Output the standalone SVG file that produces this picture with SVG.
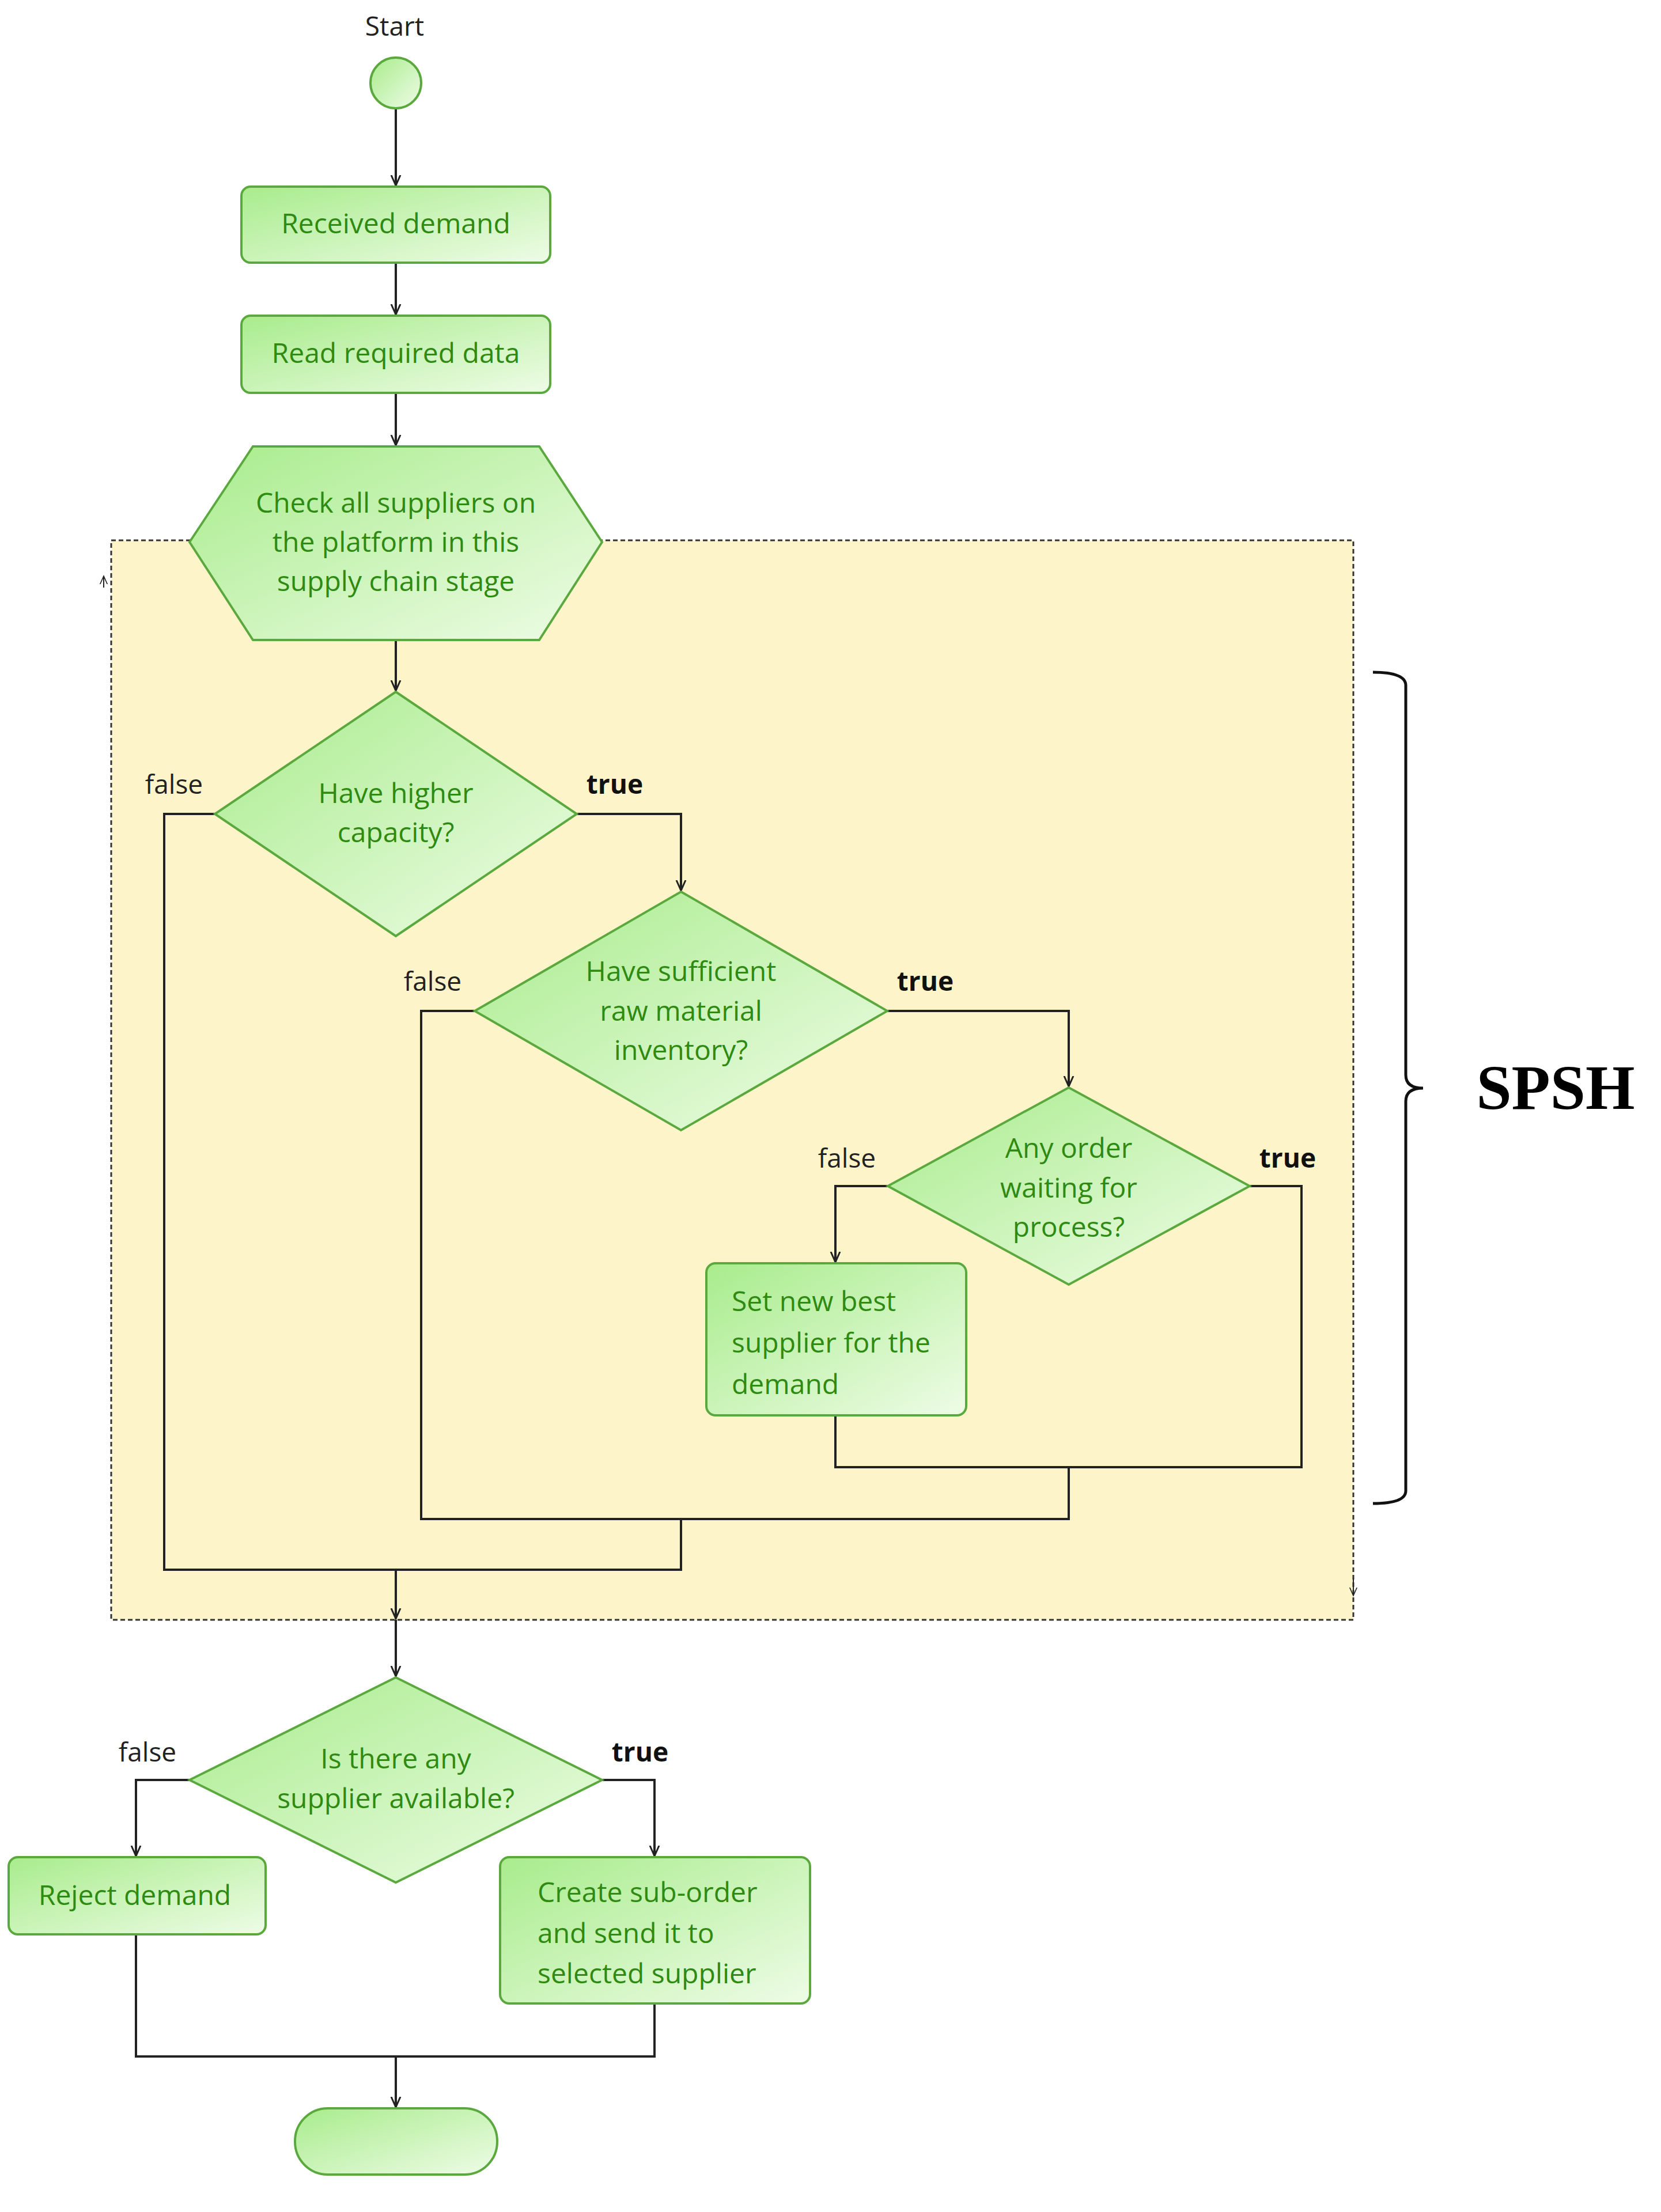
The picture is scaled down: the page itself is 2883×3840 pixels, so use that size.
<svg xmlns="http://www.w3.org/2000/svg" width="2883" height="3840" viewBox="0 0 2883 3840">
<defs>
<linearGradient id="g" x1="0" y1="0" x2="1" y2="1">
<stop offset="0" stop-color="#a8ec8c"/><stop offset="1" stop-color="#eefce6"/>
</linearGradient>
<marker id="a" viewBox="0 0 20 20" refX="18" refY="10" markerWidth="20" markerHeight="20" markerUnits="userSpaceOnUse" orient="auto">
<path d="M0,2 L18,10 L0,18" fill="none" stroke="#222" stroke-width="3"/>
</marker>
<marker id="as" viewBox="0 0 20 20" refX="18" refY="10" markerWidth="16" markerHeight="16" markerUnits="userSpaceOnUse" orient="auto">
<path d="M0,2 L18,10 L0,18" fill="none" stroke="#222" stroke-width="2"/>
</marker>
</defs>
<style>
.n{fill:url(#g);stroke:#5aa83e;stroke-width:4}
.t{font-family:"Open Sans","DejaVu Sans",sans-serif;font-size:48px;fill:#2f8a12;text-anchor:middle}
.tl{font-family:"Open Sans","DejaVu Sans",sans-serif;font-size:48px;fill:#2f8a12}
.f{font-family:"Open Sans","DejaVu Sans",sans-serif;font-size:46px;fill:#222}
.tr{font-family:"Open Sans","DejaVu Sans",sans-serif;font-size:46px;fill:#111;font-weight:bold}
.c{fill:none;stroke:#222;stroke-width:4}
</style>
<rect width="2883" height="3840" fill="#fff"/>
<g id="loop">
<rect x="193" y="938" width="2156" height="1874" fill="#fdf5c9" stroke="#333" stroke-width="3" stroke-dasharray="8,5"/>
<line x1="180" y1="1020" x2="180" y2="1000" stroke="#222" stroke-width="2" marker-end="url(#as)"/>
<line x1="2349" y1="2740" x2="2349" y2="2770" stroke="#222" stroke-width="2" marker-end="url(#as)"/>
</g>
<g id="connectors">
<line class="c" x1="687" y1="188" x2="687" y2="322" marker-end="url(#a)"/>
<line class="c" x1="687" y1="456" x2="687" y2="546" marker-end="url(#a)"/>
<line class="c" x1="687" y1="682" x2="687" y2="773" marker-end="url(#a)"/>
<line class="c" x1="687" y1="1111" x2="687" y2="1199" marker-end="url(#a)"/>
<polyline class="c" points="1002,1413 1182,1413 1182,1546" marker-end="url(#a)"/>
<polyline class="c" points="373,1413 285,1413 285,2725 1182,2725 1182,2637"/>
<polyline class="c" points="824,1755 731,1755 731,2637 1855,2637 1855,2547"/>
<polyline class="c" points="1540,1755 1855,1755 1855,1886" marker-end="url(#a)"/>
<polyline class="c" points="1541,2059 1450,2059 1450,2191" marker-end="url(#a)"/>
<polyline class="c" points="2169,2059 2259,2059 2259,2547 1450,2547 1450,2457"/>
<line class="c" x1="687" y1="2725" x2="687" y2="2810" marker-end="url(#a)"/>
<line class="c" x1="687" y1="2812" x2="687" y2="2910" marker-end="url(#a)"/>
<polyline class="c" points="329,3090 236,3090 236,3222" marker-end="url(#a)"/>
<polyline class="c" points="1045,3090 1136,3090 1136,3222" marker-end="url(#a)"/>
<polyline class="c" points="236,3358 236,3570 1136,3570 1136,3478"/>
<line class="c" x1="687" y1="3570" x2="687" y2="3658" marker-end="url(#a)"/>
<text class="f" x="302" y="1378" text-anchor="middle">false</text>
<text class="tr" x="1067" y="1378" text-anchor="middle">true</text>
<text class="f" x="751" y="1720" text-anchor="middle">false</text>
<text class="tr" x="1606" y="1720" text-anchor="middle">true</text>
<text class="f" x="1470" y="2027" text-anchor="middle">false</text>
<text class="tr" x="2235" y="2027" text-anchor="middle">true</text>
<text class="f" x="256" y="3058" text-anchor="middle">false</text>
<text class="tr" x="1111" y="3058" text-anchor="middle">true</text>
</g>
<g id="start">
<text class="f" x="685" y="62" text-anchor="middle">Start</text>
<circle class="n" cx="687" cy="144" r="44"/>
</g>
<g id="received"><rect class="n" x="419" y="324" width="536" height="132" rx="16"/><text class="t" x="687" y="405">Received demand</text></g>
<g id="read"><rect class="n" x="419" y="548" width="536" height="134" rx="16"/><text class="t" x="687" y="630">Read required data</text></g>
<g id="check"><polygon class="n" points="329,941 439,775 936,775 1045,941 936,1111 439,1111"/>
<text class="t" x="687" y="890">Check all suppliers on</text><text class="t" x="687" y="958">the platform in this</text><text class="t" x="687" y="1026">supply chain stage</text></g>
<g id="d1"><polygon class="n" points="687,1201 1001,1413 687,1625 373,1413"/>
<text class="t" x="687" y="1394">Have higher</text><text class="t" x="687" y="1462">capacity?</text></g>
<g id="d2"><polygon class="n" points="1182,1548 1540,1755 1182,1962 824,1755"/>
<text class="t" x="1182" y="1703">Have sufficient</text><text class="t" x="1182" y="1772">raw material</text><text class="t" x="1182" y="1840">inventory?</text></g>
<g id="d3"><polygon class="n" points="1855,1888 2169,2059 1855,2230 1541,2059"/>
<text class="t" x="1855" y="2010">Any order</text><text class="t" x="1855" y="2079">waiting for</text><text class="t" x="1855" y="2147">process?</text></g>
<g id="setbest"><rect class="n" x="1226" y="2193" width="451" height="264" rx="16"/>
<text class="tl" x="1270" y="2276">Set new best</text><text class="tl" x="1270" y="2348">supplier for the</text><text class="tl" x="1270" y="2420">demand</text></g>
<g id="d4"><polygon class="n" points="687,2912 1045,3090 687,3268 329,3090"/>
<text class="t" x="687" y="3070">Is there any</text><text class="t" x="687" y="3139">supplier available?</text></g>
<g id="reject"><rect class="n" x="15" y="3224" width="446" height="134" rx="16"/><text class="t" x="234" y="3307">Reject demand</text></g>
<g id="create"><rect class="n" x="868" y="3224" width="538" height="254" rx="16"/>
<text class="tl" x="933" y="3302">Create sub-order</text><text class="tl" x="933" y="3373">and send it to</text><text class="tl" x="933" y="3443">selected supplier</text></g>
<g id="end"><rect class="n" x="512" y="3660" width="351" height="115" rx="57"/></g>
<g id="spsh">
<path d="M2383,1167 Q2440,1167 2440,1190 L2440,1866 Q2440,1889 2470,1889 Q2440,1889 2440,1912 L2440,2588 Q2440,2610 2383,2610" fill="none" stroke="#111" stroke-width="5"/>
<text x="2700" y="1925" font-family="Liberation Serif,serif" font-weight="bold" font-size="110" text-anchor="middle" fill="#000">SPSH</text>
</g>
</svg>
